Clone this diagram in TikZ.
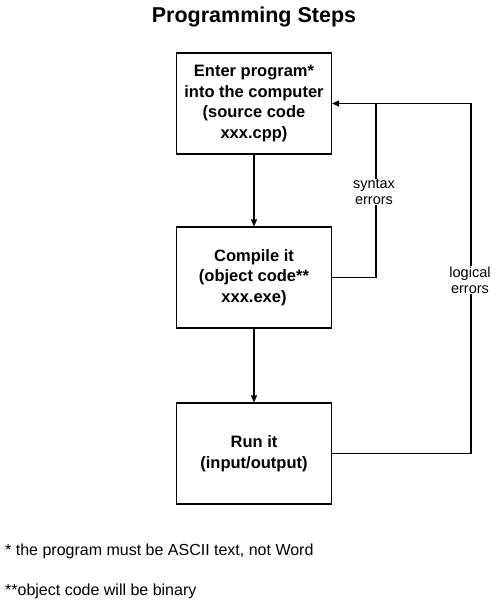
\documentclass[tikz,border=0pt]{standalone}
\usepackage{fontspec}
\setmainfont{Liberation Sans}
\usetikzlibrary{arrows.meta}
\begin{document}
\begin{tikzpicture}[x=1pt,y=-1pt,
  stepbox/.style={draw,line width=1.1pt,minimum width=155pt,minimum height=101pt,inner sep=0pt,align=center,
    font=\fontsize{16.5}{20.5}\selectfont\bfseries},
  lbl/.style={inner sep=0pt,align=center,font=\fontsize{14.5}{16}\selectfont},
  ln/.style={line width=1.1pt},
  arr/.style={line width=1.1pt,-{Triangle[length=7pt,width=6pt]}},
  foot/.style={anchor=west,inner sep=0pt,font=\fontsize{16}{18}\selectfont}]
\useasboundingbox (0,0) rectangle (500,607);
\node[font=\fontsize{21.5}{24}\selectfont\bfseries] (title) at (254,17) {Programming Steps};
\node[stepbox] (enter) at (254,103.5) {Enter program*\\into the computer\\(source code\\xxx.cpp)};
\node[stepbox] (compile) at (254,277.5) {Compile it\\(object code**\\xxx.exe)};
\node[stepbox] (run) at (254,453.5) {Run it\\(input/output)};
\node[lbl] (syn) at (374,192) {syntax\\errors};
\node[lbl] (log) at (470,280) {logical\\errors};
\coordinate (s1) at (376,277.5);
\coordinate (s2) at (376,103.5);
\coordinate (l1) at (471,453.5);
\coordinate (l2) at (471,103.5);
\draw[arr] (enter) -- (compile);
\draw[arr] (compile) -- (run);
\draw[ln] (compile.east) -- (s1) -- (s1 |- syn.south);
\draw[arr] (s1 |- syn.north) -- (s2) -- (enter.east);
\draw[ln] (run.east) -- (l1) -- (l1 |- log.south);
\draw[ln] (l1 |- log.north) -- (l2) -- (s2);
\node[foot] (f1) at (5,551) {* the program must be ASCII text, not Word};
\node[foot] (f2) at (5,591) {**object code will be binary};
\end{tikzpicture}
\end{document}
